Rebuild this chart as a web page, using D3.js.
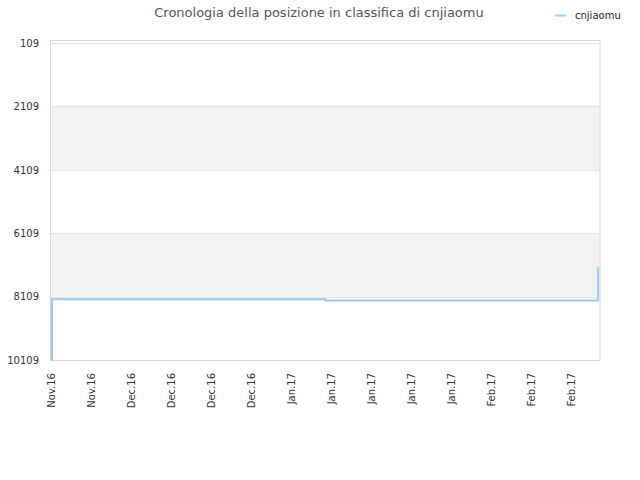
<!DOCTYPE html>
<html>
<head>
<meta charset="utf-8">
<script src="https://cdn.jsdelivr.net/npm/d3@7"></script>
<style>
  body { margin: 0; background: #fff; }
  text { font-family: "DejaVu Sans", sans-serif; }
</style>
</head>
<body>
<svg width="640" height="480"></svg>
<script>
var svg = d3.select("svg");
var line_color = "#9ec8f2";
var band_color = "#f2f2f2";
var grid_color = "#e3e3e3";
var border_color = "#d9d9d9";

// data
var title = "Cronologia della posizione in classifica di cnjiaomu";
var series_name = "cnjiaomu";
var dates = ["2016-11-21T00:00", "2016-11-21T04:00", "2017-01-08T00:00", "2017-02-24T16:00"];
var ranks = [10109, 8195, 8233, 7184];
var y_ticks = [109, 2109, 4109, 6109, 8109, 10109];
var x_start = "2016-11-21", x_end = "2017-02-25";

var parse = d3.isoParse;
var points = dates.map(function(d, i) { return {date: parse(d), rank: ranks[i]}; });

var plot_left = 51, plot_right = 600, plot_top = 40, plot_bottom = 360;

var x = d3.scaleTime()
    .domain([parse(x_start), parse(x_end)])
    .range([plot_left, plot_right]);
var y = d3.scaleLinear()
    .domain([109, 10109])
    .range([43, plot_bottom]);

// alternating bands between gridlines
for (var i = 0; i < y_ticks.length - 1; i++) {
    if (i % 2 == 1) {
        svg.append("rect")
           .attr("x", plot_left)
           .attr("y", y(y_ticks[i]))
           .attr("width", plot_right - plot_left)
           .attr("height", y(y_ticks[i + 1]) - y(y_ticks[i]))
           .attr("fill", band_color);
    }
}

// gridlines
svg.append("g")
   .selectAll("line")
   .data(y_ticks)
   .enter()
   .append("line")
   .attr("x1", plot_left)
   .attr("x2", plot_right)
   .attr("y1", function(d) { return Math.round(y(d)) + 0.5; })
   .attr("y2", function(d) { return Math.round(y(d)) + 0.5; })
   .attr("stroke", grid_color)
   .attr("stroke-width", 1);

// plot frame
svg.append("rect")
   .attr("x", plot_left - 0.5)
   .attr("y", plot_top + 0.5)
   .attr("width", plot_right - plot_left + 0.5)
   .attr("height", plot_bottom - plot_top)
   .attr("fill", "none")
   .attr("stroke", border_color)
   .attr("stroke-width", 1);

// y axis labels
var yAxis = d3.axisLeft(y)
    .tickValues(y_ticks)
    .tickSize(0)
    .tickPadding(12)
    .tickFormat(d3.format("d"));
svg.append("g")
   .attr("transform", "translate(" + plot_left + ",0)")
   .call(yAxis)
   .call(function(g) { g.select(".domain").remove(); })
   .selectAll("text")
   .style("font-size", "10px")
   .style("font-family", "DejaVu Sans")
   .attr("fill", "#333");

// x axis labels, weekly, rotated
var xAxis = d3.axisBottom(x)
    .ticks(d3.timeMonday.every(1))
    .tickSize(0)
    .tickFormat(d3.timeFormat("%b.%y"));
svg.append("g")
   .attr("transform", "translate(0," + plot_bottom + ")")
   .call(xAxis)
   .call(function(g) { g.select(".domain").remove(); })
   .selectAll("text")
   .style("font-size", "10px")
   .style("font-family", "DejaVu Sans")
   .attr("fill", "#333")
   .attr("text-anchor", "end")
   .attr("transform", "rotate(-90)")
   .attr("x", -13)
   .attr("y", 0)
   .attr("dy", "0.35em");

// the ranking line
var line = d3.line()
    .x(function(d) { return x(d.date); })
    .y(function(d) { return y(d.rank); })
    .curve(d3.curveStepAfter);
svg.append("path")
   .datum(points)
   .attr("d", line)
   .attr("fill", "none")
   .attr("stroke", line_color)
   .attr("stroke-width", 2);

// title
svg.append("text")
   .attr("x", 319)
   .attr("y", 12)
   .attr("dy", "0.35em")
   .attr("text-anchor", "middle")
   .style("font-size", "13px")
   .attr("fill", "#555")
   .text(title);

// legend
svg.append("line")
   .attr("x1", 555)
   .attr("x2", 566)
   .attr("y1", 15.5)
   .attr("y2", 15.5)
   .attr("stroke", line_color)
   .attr("stroke-width", 2);
svg.append("text")
   .attr("x", 575)
   .attr("y", 15)
   .attr("dy", "0.35em")
   .style("font-size", "10px")
   .attr("fill", "#222")
   .text(series_name);
</script>
</body>
</html>
